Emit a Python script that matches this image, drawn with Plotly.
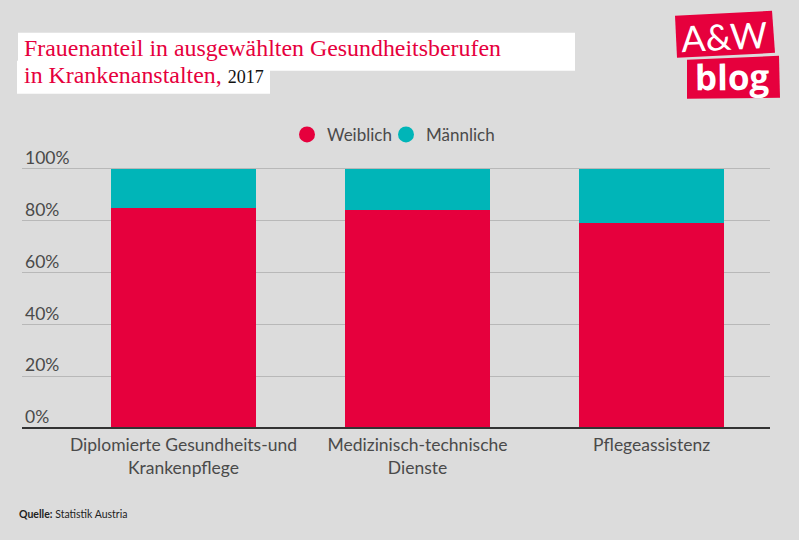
import plotly.graph_objects as go

categories = ["Diplomierte Gesundheits-und<br>Krankenpflege", "Medizinisch-technische<br>Dienste", "Pflegeassistenz"]
weiblich = [85, 84, 79]
maennlich = [15, 16, 21]
y_ticks = [0, 20, 40, 60, 80, 100]
y_labels = ["0%", "20%", "40%", "60%", "80%", "100%"]

W, H = 799, 540
Y100, Y0 = 169, 428
EXTRA = 10  # axis units kept free above and below so the end tick labels stay visible
UNIT = (Y0 - Y100) / 100
L, R = 22, 770
T, B = Y100 - EXTRA * UNIT, Y0 + EXTRA * UNIT
RED, TEAL, BG, TXT = "#e6003d", "#00b5b8", "#dcdcdc", "#4a4a4a"
SANS = "Lato"
SLAB = "Liberation Serif"

def px(x): return (x - L) / (R - L)
def py(y): return (B - y) / (B - T)
def path(pts):
    return "M" + " L".join(f"{px(x)},{py(y)}" for x, y in pts) + " Z"

fig = go.Figure()
fig.add_bar(x=categories, y=weiblich, name="Weiblich", marker_color=RED, marker_line_width=0, showlegend=False)
fig.add_bar(x=categories, y=maennlich, name="Männlich", marker_color=TEAL, marker_line_width=0, showlegend=False)
for name, col in [("Weiblich", RED), ("Männlich", TEAL)]:
    fig.add_scatter(x=[None], y=[None], mode="markers", name=name,
                    marker=dict(color=col, size=16, symbol="circle"))

shapes = []
for pts, col in [
    ([(18, 33), (575, 33), (575, 71), (18, 71)], "white"),
    ([(17, 61), (270, 61), (270, 94), (17, 94)], "white"),
    ([(675, 16), (772, 11), (775, 53), (677, 58)], RED),
    ([(687, 60), (779, 56), (780, 98), (687, 99)], RED),
]:
    shapes.append(dict(type="path", xref="paper", yref="paper", path=path(pts),
                       fillcolor=col, line_width=0, layer="below"))

def note(x, y, text, size, color, family, anchor="left", angle=0):
    return dict(xref="paper", yref="paper", x=px(x), y=py(y), text=text, showarrow=False,
                xanchor=anchor, yanchor="middle", textangle=angle, align="left",
                font=dict(size=size, color=color, family=family))

annotations = [
    note(22, 48.5, "Frauenanteil in ausgewählten Gesundheitsberufen", 23.9, RED, SLAB),
    note(22, 75.5, "in Krankenanstalten, <span style='font-size:18px;color:#111111'>2017</span>", 23.9, RED, SLAB),
    note(17, 514, "<b>Quelle:</b> Statistik Austria", 10.5, "#222222", SANS),
    note(724, 36, "A&amp;W", 36, "white", SANS, "center", -3),
    note(732, 77, "<b>blog</b>", 35, "white", "Open Sans", "center", -0.5),
]

fig.update_layout(
    width=W, height=H, barmode="stack", bargap=0.38,
    paper_bgcolor=BG, plot_bgcolor=BG,
    margin=dict(l=L, r=W - R, t=T, b=H - B, pad=0),
    font=dict(family=SANS, color=TXT, size=17.5),
    shapes=shapes, annotations=annotations,
    legend=dict(orientation="h", traceorder="normal", x=px(386), y=py(135), xanchor="center", yanchor="middle",
                bgcolor="rgba(0,0,0,0)", font=dict(size=17, color=TXT),
                entrywidth=54, entrywidthmode="pixels"),
    xaxis=dict(type="category", range=[-0.69, 2.506], showgrid=False, ticks="",
               anchor="free", position=EXTRA * UNIT / (B - T), ticklabelstandoff=1,
               showline=True, linecolor="#333333", linewidth=2,
               tickfont=dict(size=17.5, color=TXT)),
    yaxis=dict(range=[-EXTRA, 100 + EXTRA], tickvals=y_ticks, ticktext=y_labels, showgrid=True,
               gridcolor="#b8b8b8", gridwidth=1, zeroline=False, showline=False, ticks="",
               ticklabelposition="inside", ticklabelshift=-11,
               tickfont=dict(size=17.5, color=TXT)),
)
css = "body{margin:0}.legend .scrollbox{clip-path:none !important}.legend{clip-path:none !important}"
fig.write_html("out.html", config={"displayModeBar": False},
               post_script=f"var s=document.createElement('style');s.textContent='{css}';document.head.appendChild(s);")
